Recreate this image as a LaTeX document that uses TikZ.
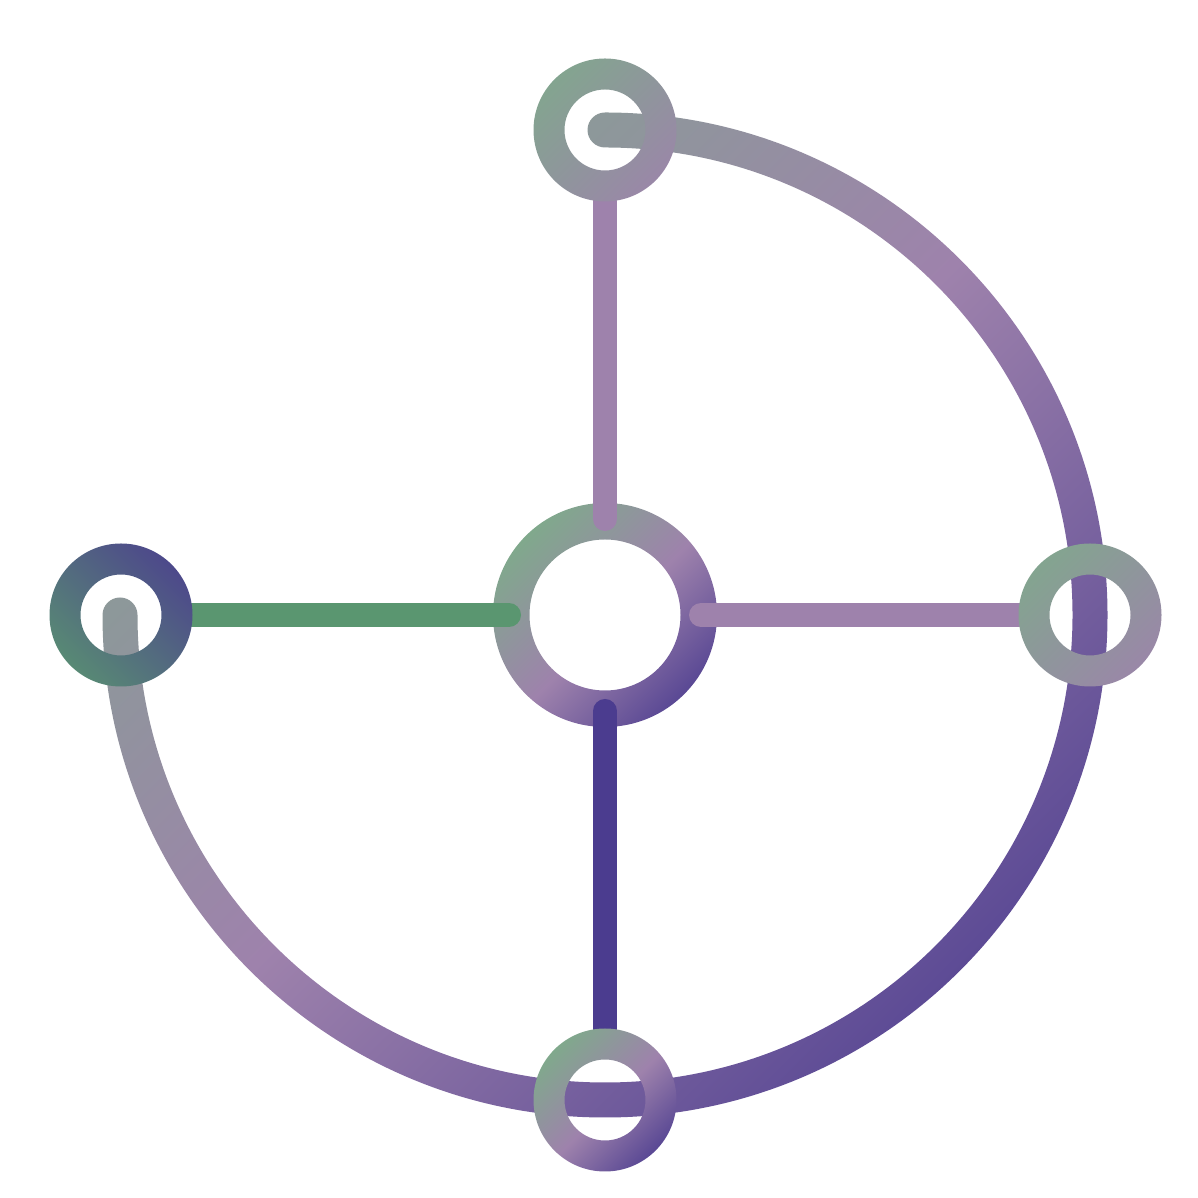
\documentclass[tikz,border=0pt]{standalone}
\usepackage{xcolor}
\usepackage{tikz}
\usetikzlibrary{calc}
\definecolor{leaf}{HTML}{7FAA8B}
\definecolor{fern}{HTML}{5A9670}
\definecolor{heather}{HTML}{9E82AC}
\definecolor{indigo}{HTML}{4B3C8F}
\pgfdeclarehorizontalshading{fullspectrum}{100bp}{color(0bp)=(leaf); color(18bp)=(leaf); color(50bp)=(heather); color(82bp)=(indigo); color(100bp)=(indigo)}
\pgfdeclarehorizontalshading{hubspectrum}{100bp}{color(0bp)=(leaf); color(24bp)=(leaf); color(52bp)=(heather); color(80bp)=(indigo); color(100bp)=(indigo)}
\pgfdeclarehorizontalshading{halfspectrum}{100bp}{color(0bp)=(leaf); color(15bp)=(leaf); color(85bp)=(heather); color(100bp)=(heather)}
\pgfdeclarehorizontalshading{deepspectrum}{100bp}{color(0bp)=(fern); color(15bp)=(fern); color(85bp)=(indigo); color(100bp)=(indigo)}
\tikzset{
  waypoint/.style={circle, minimum size=1.43cm, inner sep=0pt, outer sep=0pt},
  hubpoint/.style={circle, minimum size=2.24cm, inner sep=0pt, outer sep=0pt},
  spoke/.style={line width=0.24cm, line cap=round, shorten >=-0.16cm},
  ringfill/.style={even odd rule, shading angle=-45},
  loopband/.style={shading=fullspectrum, shading angle=-45}
}

\begin{document}
\begin{tikzpicture}[x=1cm,y=1cm]
\path[use as bounding box] (0,0) rectangle (11.98,11.98);

\node[hubpoint] (hub) at (6.05,5.83) {};
\node[waypoint] (north) at (6.05,10.68) {};
\node[waypoint] (west) at (1.21,5.83) {};
\node[waypoint] (east) at (10.90,5.83) {};
\node[waypoint] (south) at (6.05,0.98) {};

\shade[loopband] ($(hub)+(90:5.025)$) arc[start angle=90, end angle=-180, radius=5.025]
  arc[start angle=180, end angle=0, radius=0.175]
  arc[start angle=-180, end angle=90, radius=4.675]
  arc[start angle=270, end angle=90, radius=0.175] -- cycle;

\shade[ringfill, shading=hubspectrum] (hub) circle[radius=1.12] (hub) circle[radius=0.755];

\draw[spoke, heather] (north) -- (hub);
\draw[spoke, fern] (west) -- (hub);
\draw[spoke, heather] (east) -- (hub);
\draw[spoke, indigo] (south) -- (hub);

\shade[ringfill, shading=halfspectrum] (north) circle[radius=0.715] (north) circle[radius=0.405];
\shade[ringfill, shading=halfspectrum] (east) circle[radius=0.715] (east) circle[radius=0.405];
\shade[ringfill, shading=hubspectrum] (south) circle[radius=0.715] (south) circle[radius=0.405];
\shade[ringfill, shading=deepspectrum, shading angle=45] (west) circle[radius=0.715] (west) circle[radius=0.405];
\end{tikzpicture}
\end{document}
